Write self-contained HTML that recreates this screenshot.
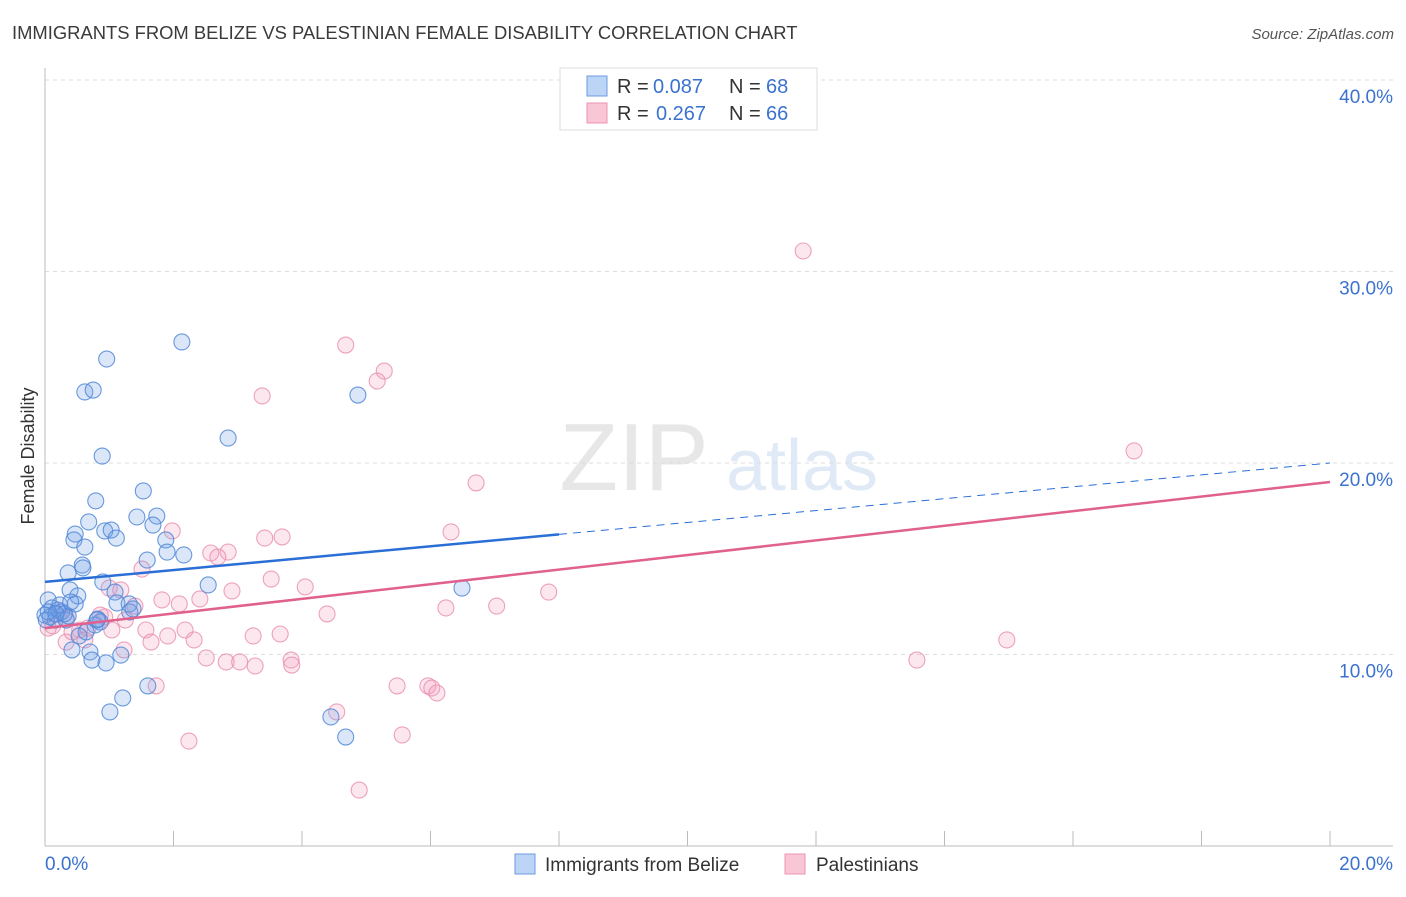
<!DOCTYPE html>
<html><head><meta charset="utf-8"><style>
body{margin:0;background:#fff;font-family:"Liberation Sans",sans-serif;}
svg text{font-family:"Liberation Sans",sans-serif;}
</style></head><body>
<svg id="chart" width="1406" height="892" xmlns="http://www.w3.org/2000/svg">
<text x="12" y="39" font-size="18.4" fill="#3a3a3a">IMMIGRANTS FROM BELIZE VS PALESTINIAN FEMALE DISABILITY CORRELATION CHART</text>
<text x="1394" y="39" font-size="15" fill="#555" font-style="italic" text-anchor="end">Source: ZipAtlas.com</text>
<text transform="translate(34,456) rotate(-90)" font-size="18" fill="#333" text-anchor="middle">Female Disability</text>
<g opacity="0.35">
<text x="634" y="490" font-size="96" font-family="Liberation Serif" fill="#bbb" text-anchor="middle">ZIP</text>
<text x="802" y="490" font-size="72" fill="#a9c4ea" text-anchor="middle">atlas</text>
</g>
<g id="grid"></g><g id="axes"></g><g id="marks"></g>
<g>
<rect x="560" y="68" width="257" height="62" fill="#fff" stroke="#ddd"/>
<rect x="587" y="76" width="20" height="20" fill="#bcd4f5" stroke="#6b9be0"/>
<rect x="587" y="103" width="20" height="20" fill="#f9c6d6" stroke="#ee93b1"/>
<text x="617" y="93" font-size="20" fill="#333">R =</text>
<text x="653" y="93" font-size="20" fill="#3b72d0">0.087</text>
<text x="729" y="93" font-size="20" fill="#333">N =</text>
<text x="766" y="93" font-size="20" fill="#3b72d0">68</text>
<text x="617" y="120" font-size="20" fill="#333">R =</text>
<text x="656" y="120" font-size="20" fill="#3b72d0">0.267</text>
<text x="729" y="120" font-size="20" fill="#333">N =</text>
<text x="766" y="120" font-size="20" fill="#3b72d0">66</text>
</g>
<g>
<rect x="515" y="854" width="20" height="20" fill="#bcd4f5" stroke="#6b9be0"/>
<text x="545" y="871" font-size="19" fill="#333">Immigrants from Belize</text>
<rect x="785" y="854" width="20" height="20" fill="#f9c6d6" stroke="#ee93b1"/>
<text x="816" y="871" font-size="19" fill="#333">Palestinians</text>
</g>
</svg>
<script>
const yTicks=[10,20,30,40];
const yTickLabels=["10.0%","20.0%","30.0%","40.0%"];
const xTickLabels=["0.0%","20.0%"];
const blueX=[2.13,.96,.62,.75,4.87,2.85,.89,1.53,.79,.68,1.43,1.74,.47,.45,.93,1.03,1.11,1.68,1.88,.62,1.90,2.16,1.59,.58,.36,.59,.90,2.54,6.49,.39,.51,1.09,1.12,1.31,1.32,1.37,.05,.11,.20,.26,0,.16,.33,.36,.81,.86,.78,.64,.53,.70,.42,.73,.95,1.18,1.60,1.21,1.01,4.45,4.68,.47,.08,.23,.30,.82,.05,.02,.17,.40];
const blueY=[26.32,25.43,23.71,23.81,23.55,21.30,20.36,18.54,18.02,16.92,17.18,17.23,16.29,15.98,16.45,16.50,16.08,16.76,15.98,15.61,15.35,15.20,14.93,14.67,14.26,14.52,13.79,13.63,13.47,13.37,13.06,13.26,12.69,12.64,12.22,12.38,12.85,12.43,12.32,12.22,12.06,11.80,11.80,12.01,11.80,11.70,11.54,11.18,10.97,10.13,10.24,9.71,9.56,9.97,8.36,7.73,7.00,6.74,5.69,12.64,11.96,12.59,12.12,11.85,12.22,11.80,12.12,12.74];
const pinkX=[11.80,4.68,5.28,5.17,3.38,16.95,6.71,6.32,1.98,3.42,3.69,2.58,2.85,2.69,1.51,3.52,4.05,2.91,2.41,1.00,1.18,1.82,2.09,1.40,6.24,7.03,7.84,4.39,.33,.12,.54,.93,1.04,1.57,2.18,1.91,2.32,1.65,1.23,.33,3.24,3.66,2.51,2.82,3.03,3.27,3.83,3.84,14.97,13.57,5.48,5.96,6.02,6.10,4.54,5.56,2.24,4.89,1.73,.23,.05,.42,.67,.86,.62,1.25];
const pinkY=[31.07,26.16,24.80,24.28,23.50,20.63,18.96,16.40,16.45,16.08,16.14,15.30,15.35,15.09,14.46,13.94,13.53,13.32,12.90,13.47,13.37,12.85,12.64,12.53,12.43,12.53,13.26,12.12,11.91,11.49,11.28,11.96,11.28,11.28,11.28,10.97,10.76,10.65,10.24,10.65,10.97,11.07,9.82,9.61,9.61,9.40,9.71,9.45,10.76,9.71,8.36,8.36,8.25,7.99,7.00,5.80,5.48,2.92,8.36,12.22,11.38,11.18,11.38,12.06,10.76,11.80];
const blueTrend=[13.79,20.0];
const pinkTrend=[11.38,19.01];
const NS="http://www.w3.org/2000/svg";
const sx=v=>45+v/20*1285;
const sy=v=>846-v*19.15;
function mk(tag,attrs,parent){const e=document.createElementNS(NS,tag);for(const k in attrs)e.setAttribute(k,attrs[k]);parent.appendChild(e);return e;}
const grid=document.getElementById('grid'),axes=document.getElementById('axes'),marks=document.getElementById('marks');
yTicks.forEach((t,i)=>{
 const l=mk('line',{x1:45,x2:1393,y1:sy(t),y2:sy(t),stroke:'#ddd','stroke-dasharray':'4,4'},grid);
 
 
 const tx=mk('text',{x:1393,y:sy(t)+23,'font-size':19,fill:'#3b72d0','text-anchor':'end'},axes);
 tx.textContent=yTickLabels[i];
 
 
});
let ax=mk('line',{x1:45,x2:45,y1:68,y2:846,stroke:'#bbb'},axes);


ax=mk('line',{x1:45,x2:1393,y1:846,y2:846,stroke:'#bbb'},axes);


for(let i=1;i<=10;i++){const t=mk('line',{x1:sx(i*2),x2:sx(i*2),y1:831,y2:846,stroke:'#bbb'},axes);
 
 }
[[0,'start',45],[20,'end',1393]].forEach((d,i)=>{const t=mk('text',{x:d[2],y:870,'font-size':19,fill:'#3b72d0','text-anchor':d[1]},axes);t.textContent=xTickLabels[i];
 
 });
function pts(X,Y,fill,stroke,name){X.forEach((x,i)=>{const c=mk('circle',{cx:sx(x),cy:sy(Y[i]),r:8,fill:fill,stroke:stroke,'stroke-width':1.1},marks);
 
 });}
pts(pinkX,pinkY,'rgba(245,160,190,0.25)','rgba(232,140,172,0.8)','palestinian-point');
pts(blueX,blueY,'rgba(110,160,230,0.25)','rgba(80,135,215,0.85)','belize-point');
const by=x=>blueTrend[0]+(blueTrend[1]-blueTrend[0])*x/20;
let l=mk('line',{x1:sx(0),y1:sy(by(0)),x2:sx(8),y2:sy(by(8)),stroke:'#2a6fd6','stroke-width':2.5},marks);


l=mk('line',{x1:sx(8),y1:sy(by(8)),x2:sx(20),y2:sy(by(20)),stroke:'#2a6fd6','stroke-width':1,'stroke-dasharray':'8,6'},marks);


l=mk('line',{x1:sx(0),y1:sy(pinkTrend[0]),x2:sx(20),y2:sy(pinkTrend[1]),stroke:'#e0608e','stroke-width':2.5},marks);


</script>
</body></html>
